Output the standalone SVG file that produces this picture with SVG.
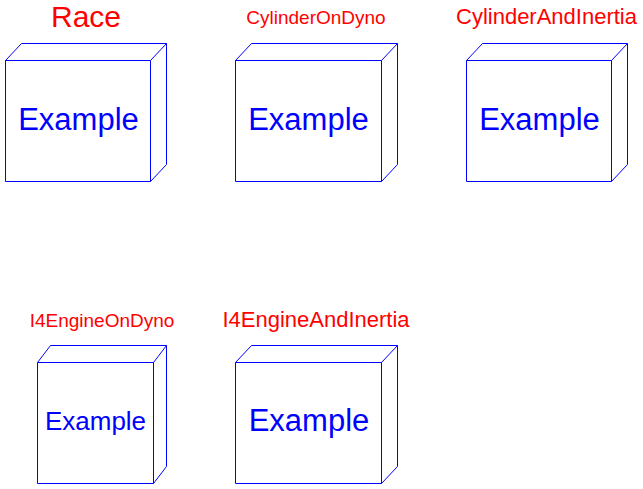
<svg xmlns="http://www.w3.org/2000/svg" width="643" height="489" viewBox="0 0 643 489">
  <style>
    .box { fill: none; stroke: #0000FF; stroke-width: 1; }
    .name { fill: #FF0000; font-family: "Liberation Sans", Arial, sans-serif; text-anchor: middle; }
    .inner { fill: #0000FF; font-family: "Liberation Sans", Arial, sans-serif; text-anchor: middle; }
  </style>
  <rect width="643" height="489" fill="#FFFFFF"/>

  <!-- Race -->
  <g id="Race">
    <path class="box" d="M5.5,60.5 H150.5 V181.5 H5.5 Z M5.5,60.5 L21.5,43.5 H166.5 V164.5 L150.5,181.5 M150.5,60.5 L166.5,43.5"/>
    <text class="name" x="86" y="27" font-size="30">Race</text>
    <text class="inner" x="78.5" y="130" font-size="31">Example</text>
  </g>

  <!-- CylinderOnDyno -->
  <g id="CylinderOnDyno">
    <path class="box" d="M235.5,60.5 H381.5 V181.5 H235.5 Z M235.5,60.5 L251.5,43.5 H397.5 V164.5 L381.5,181.5 M381.5,60.5 L397.5,43.5"/>
    <text class="name" x="316" y="23.5" font-size="19">CylinderOnDyno</text>
    <text class="inner" x="308.5" y="130" font-size="31">Example</text>
  </g>

  <!-- CylinderAndInertia -->
  <g id="CylinderAndInertia">
    <path class="box" d="M466.5,60.5 H611.5 V181.5 H466.5 Z M466.5,60.5 L482.5,43.5 H627.5 V164.5 L611.5,181.5 M611.5,60.5 L627.5,43.5"/>
    <text class="name" x="546.5" y="23.5" font-size="22">CylinderAndInertia</text>
    <text class="inner" x="539.5" y="130" font-size="31">Example</text>
  </g>

  <!-- I4EngineOnDyno -->
  <g id="I4EngineOnDyno">
    <path class="box" d="M37.5,362.5 H153.5 V483.5 H37.5 Z M37.5,362.5 L50.5,345.5 H166.5 V466.5 L153.5,483.5 M153.5,362.5 L166.5,345.5"/>
    <text class="name" x="102" y="327" font-size="19">I4EngineOnDyno</text>
    <text class="inner" x="95.5" y="430" font-size="26">Example</text>
  </g>

  <!-- I4EngineAndInertia -->
  <g id="I4EngineAndInertia">
    <path class="box" d="M235.5,362.5 H381.5 V483.5 H235.5 Z M235.5,362.5 L251.5,345.5 H397.5 V466.5 L381.5,483.5 M381.5,362.5 L397.5,345.5"/>
    <text class="name" x="316" y="327" font-size="22">I4EngineAndInertia</text>
    <text class="inner" x="309" y="431" font-size="31">Example</text>
  </g>

  <g id="connectors"/>
</svg>
